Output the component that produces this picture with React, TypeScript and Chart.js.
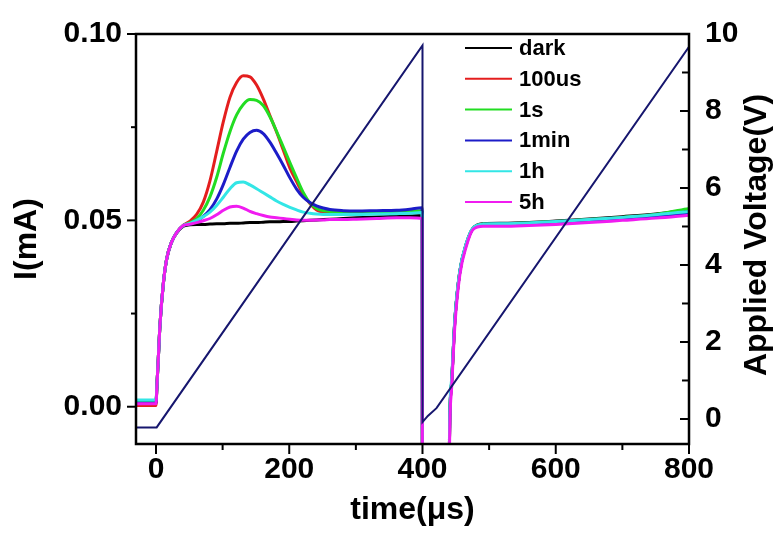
import React, { useEffect, useRef } from 'react';
import { Chart, registerables } from 'chart.js';

Chart.register(...registerables);

// ---------- data ----------
const seriesNames = ['dark', '100us', '1s', '1min', '1h', '5h'];
const seriesColors = ['#000000', '#e41e1e', '#22dd22', '#1c1cc8', '#33e6e6', '#f01cf0'];
const voltageColor = '#16166e';
const rightTitle = 'Applied Voltage(V)';

// time (µs)
const time = [
  -30, -20, -10, -0.5, 0, 1.5, 3.5, 6, 11, 16, 23, 31, 41,
  51, 61, 71, 81, 91, 101, 111, 121, 131, 141, 151, 161, 171, 181, 191, 201,
  211, 221, 231, 241, 251, 261, 281, 301, 331, 361, 381, 399.5,
  400, 439.5, 440.5, 443.5, 448.7, 456, 466, 476,
  491, 520, 560, 600, 650, 700, 750, 800,
];

// current (mA)
const dark = [
  0.0010, 0.0010, 0.0010, 0.0010, 0.0010,
  0.006, 0.013, 0.022, 0.033, 0.0396, 0.044, 0.0466, 0.0484,
  0.0488, 0.0489, 0.0489, 0.0490, 0.0491, 0.0491, 0.0492, 0.0492, 0.0493, 0.0494, 0.0494, 0.0495, 0.0496, 0.0496,
  0.0497, 0.0497, 0.0498, 0.0499, 0.0500, 0.0501, 0.0502, 0.0503, 0.0505, 0.0507, 0.0509, 0.0511, 0.0512, 0.0513,
  -0.05, -0.05, -0.009, 0.006, 0.0235, 0.0362, 0.0438, 0.0479,
  0.0491, 0.0492, 0.0494, 0.0498, 0.0504, 0.0510, 0.0517, 0.0528,
];
const us100 = [
  0.0003, 0.0003, 0.0003, 0.0003, 0.0003,
  0.006, 0.013, 0.022, 0.033, 0.0396, 0.044, 0.0467, 0.0487,
  0.0498, 0.0516, 0.0549, 0.0606, 0.0684, 0.0764, 0.0830, 0.0870, 0.0888, 0.0885, 0.0863, 0.0826, 0.0781, 0.0737,
  0.0689, 0.0640, 0.0604, 0.0570, 0.0545, 0.0528, 0.0522, 0.0520, 0.0519, 0.0519, 0.0520, 0.0521, 0.0522, 0.0524,
  -0.05, -0.05, -0.009, 0.006, 0.0235, 0.0362, 0.0438, 0.0479,
  0.0489, 0.0490, 0.0492, 0.0496, 0.0501, 0.0507, 0.0514, 0.0522,
];
const s1 = [
  0.0015, 0.0015, 0.0015, 0.0015, 0.0015,
  0.006, 0.013, 0.022, 0.033, 0.0396, 0.044, 0.0467, 0.0486,
  0.0494, 0.0504, 0.0527, 0.0563, 0.0615, 0.0680, 0.0738, 0.0783, 0.0811, 0.0824, 0.0822, 0.0808, 0.0778, 0.0739,
  0.0697, 0.0655, 0.0614, 0.0575, 0.0547, 0.0532, 0.0526, 0.0524, 0.0522, 0.0521, 0.0522, 0.0523, 0.0524, 0.0526,
  -0.05, -0.05, -0.009, 0.006, 0.0235, 0.0362, 0.0438, 0.0479,
  0.0490, 0.0491, 0.0493, 0.0497, 0.0502, 0.0508, 0.0516, 0.0532,
];
const min1 = [
  0.0010, 0.0010, 0.0010, 0.0010, 0.0010,
  0.006, 0.013, 0.022, 0.033, 0.0396, 0.044, 0.0467, 0.0486,
  0.0490, 0.0498, 0.0511, 0.0529, 0.0557, 0.0596, 0.0642, 0.0686, 0.0718, 0.0736, 0.0742, 0.0733, 0.0710, 0.0680,
  0.0648, 0.0614, 0.0584, 0.0562, 0.0548, 0.0539, 0.0533, 0.0529, 0.0526, 0.0525, 0.0526, 0.0527, 0.0530, 0.0534,
  -0.05, -0.05, -0.009, 0.006, 0.0235, 0.0362, 0.0438, 0.0479,
  0.0489, 0.0490, 0.0492, 0.0496, 0.0501, 0.0506, 0.0512, 0.0518,
];
const h1 = [
  0.0018, 0.0018, 0.0018, 0.0018, 0.0018,
  0.006, 0.013, 0.022, 0.033, 0.0396, 0.044, 0.0467, 0.0486,
  0.0492, 0.0500, 0.0510, 0.0522, 0.0540, 0.0562, 0.0585, 0.0601, 0.0603, 0.0595, 0.0585, 0.0574, 0.0563, 0.0552,
  0.0543, 0.0535, 0.0528, 0.0522, 0.0519, 0.0517, 0.0516, 0.0516, 0.0516, 0.0516, 0.0517, 0.0518, 0.0519, 0.0521,
  -0.05, -0.05, -0.008, 0.007, 0.024, 0.0365, 0.0440, 0.0480,
  0.0490, 0.0491, 0.0493, 0.0497, 0.0502, 0.0508, 0.0515, 0.0524,
];
const h5 = [
  0.0008, 0.0008, 0.0008, 0.0008, 0.0008,
  0.006, 0.013, 0.022, 0.033, 0.0396, 0.044, 0.0467, 0.0486,
  0.0490, 0.0494, 0.0499, 0.0505, 0.0515, 0.0527, 0.0536, 0.0538, 0.0533, 0.0524, 0.0518, 0.0513, 0.0509, 0.0507,
  0.0505, 0.0503, 0.0501, 0.0500, 0.0500, 0.0501, 0.0501, 0.0502, 0.0502, 0.0503, 0.0505, 0.0507, 0.0507, 0.0505,
  -0.05, -0.05, -0.012, 0.0043, 0.022, 0.0353, 0.0432, 0.0476,
  0.0484, 0.0484, 0.0486, 0.0489, 0.0494, 0.0500, 0.0506, 0.0514,
];
const seriesValues = [dark, us100, s1, min1, h1, h5];

// applied voltage (V)
const voltTime = [-30, 1, 400, 400, 408, 421, 800];
const voltage = [-0.22, -0.22, 9.7, -0.08, 0.08, 0.28, 9.67];

// axis ticks
const xMajorTicks = [0, 200, 400, 600, 800];
const xMinorTicks = [100, 300, 500, 700];
const yMajorTicks = [0, 0.05, 0.1];
const yMinorTicks = [0.025, 0.075];
const y2MajorTicks = [0, 2, 4, 6, 8, 10];
const y2MinorTicks = [1, 3, 5, 7, 9];

const FONT = "'Liberation Sans', Arial, sans-serif";

const framePlugin = {
  id: 'frameTicksLegend',
  afterDraw(chart: any) {
    const { ctx, chartArea } = chart;
    const { left, right, top, bottom } = chartArea;
    const xs = chart.scales.x;
    const ys = chart.scales.y;
    const y2s = chart.scales.y2;
    ctx.save();
    ctx.strokeStyle = '#000';
    ctx.lineCap = 'butt';
    const seg = (x1: number, y1: number, x2: number, y2: number) => {
      ctx.beginPath();
      ctx.moveTo(x1, y1);
      ctx.lineTo(x2, y2);
      ctx.stroke();
    };
    ctx.lineWidth = 2;
    xMajorTicks.forEach((v) => { const p = xs.getPixelForValue(v); seg(p, bottom, p, bottom + 10); });
    xMinorTicks.forEach((v) => { const p = xs.getPixelForValue(v); seg(p, bottom, p, bottom + 6); });
    yMajorTicks.forEach((v) => { const p = ys.getPixelForValue(v); seg(left - 9, p, left, p); });
    yMinorTicks.forEach((v) => { const p = ys.getPixelForValue(v); seg(left - 5, p, left, p); });
    y2MajorTicks.forEach((v) => { const p = y2s.getPixelForValue(v); seg(right - 9, p, right, p); });
    y2MinorTicks.forEach((v) => { const p = y2s.getPixelForValue(v); seg(right - 7, p, right, p); });
    ctx.lineWidth = 2.5;
    ctx.strokeRect(left, top, right - left, bottom - top);

    // right axis title, reading bottom-to-top
    ctx.save();
    ctx.translate(757, (top + bottom) / 2 - 4);
    ctx.rotate(-Math.PI / 2);
    ctx.font = `bold 32px ${FONT}`;
    ctx.fillStyle = '#000';
    ctx.textAlign = 'center';
    ctx.textBaseline = 'middle';
    ctx.fillText(rightTitle, 0, 0);
    ctx.restore();

    // legend
    const lx0 = 465, lx1 = 512, tx = 519, ly0 = 48, dy = 30.8;
    ctx.font = `bold 22px ${FONT}`;
    ctx.textBaseline = 'middle';
    ctx.textAlign = 'left';
    seriesNames.forEach((name, i) => {
      const yy = ly0 + i * dy;
      ctx.strokeStyle = seriesColors[i];
      ctx.lineWidth = 2;
      seg(lx0, yy, lx1, yy);
      ctx.fillStyle = '#000';
      ctx.fillText(name, tx, yy + 1);
    });
    ctx.restore();
  },
};

export default function App() {
  const ref = useRef<HTMLCanvasElement | null>(null);
  useEffect(() => {
    if (!ref.current) return;
    const datasets: any[] = seriesNames.map((name, i) => ({
      label: name,
      data: time.map((t, k) => ({ x: t, y: seriesValues[i][k] })),
      borderColor: seriesColors[i],
      backgroundColor: seriesColors[i],
      borderWidth: 3,
      pointRadius: 0,
      cubicInterpolationMode: 'monotone',
      yAxisID: 'y',
      order: 6 - i,
      clip: 0,
    }));
    datasets.push({
      label: 'Applied Voltage',
      data: voltTime.map((t, k) => ({ x: t, y: voltage[k] })),
      borderColor: voltageColor,
      backgroundColor: voltageColor,
      borderWidth: 2,
      pointRadius: 0,
      tension: 0,
      yAxisID: 'y2',
      order: 0,
      clip: 0,
    });

    const tickFont = { family: FONT, size: 30, weight: 'bold' as const, lineHeight: 1.2 };
    const titleFont = { family: FONT, size: 32, weight: 'bold' as const, lineHeight: 1 };

    const chart = new Chart(ref.current, {
      type: 'line',
      data: { datasets },
      plugins: [framePlugin],
      options: {
        animation: false,
        responsive: false,
        devicePixelRatio: 1,
        layout: { padding: { top: 29, left: 0, right: 0, bottom: 0 } },
        plugins: { legend: { display: false }, tooltip: { enabled: false }, title: { display: false } },
        scales: {
          x: {
            type: 'linear',
            position: 'bottom',
            min: -30,
            max: 800,
            grid: { display: false, drawTicks: false },
            border: { display: false },
            afterBuildTicks: (s: any) => { s.ticks = xMajorTicks.map((v) => ({ value: v })); },
            afterFit: (s: any) => { s.height = 90; },
            ticks: { color: '#000', font: tickFont, padding: 8, maxRotation: 0, autoSkip: false, callback: (v: any) => String(v) },
            title: { display: true, text: 'time(\u03bcs)', color: '#000', font: titleFont, padding: { top: 0, bottom: 8 } },
          },
          y: {
            type: 'linear',
            position: 'left',
            min: -0.01,
            max: 0.1,
            grid: { display: false, drawTicks: false },
            border: { display: false },
            afterBuildTicks: (s: any) => { s.ticks = yMajorTicks.map((v) => ({ value: v })); },
            afterFit: (s: any) => { s.width = 136; },
            ticks: { color: '#000', font: tickFont, padding: 14, callback: (v: any) => Number(v).toFixed(2) },
            title: { display: true, text: 'I(mA)', color: '#000', font: titleFont, padding: { top: 11, bottom: 0 } },
          },
          y2: {
            type: 'linear',
            position: 'right',
            min: -0.65,
            max: 10,
            grid: { display: false, drawTicks: false },
            border: { display: false },
            afterBuildTicks: (s: any) => { s.ticks = y2MajorTicks.map((v) => ({ value: v })); },
            afterFit: (s: any) => { s.width = 87; },
            ticks: { color: '#000', font: tickFont, padding: 16, callback: (v: any) => String(v) },
            title: { display: false },
          },
        },
      } as any,
    });
    return () => chart.destroy();
  }, []);

  return (
    <div style={{ position: 'fixed', left: 0, top: 0, width: 776, height: 534, background: '#fff' }}>
      <canvas ref={ref} width={776} height={534} style={{ display: 'block', width: 776, height: 534 }} />
    </div>
  );
}
